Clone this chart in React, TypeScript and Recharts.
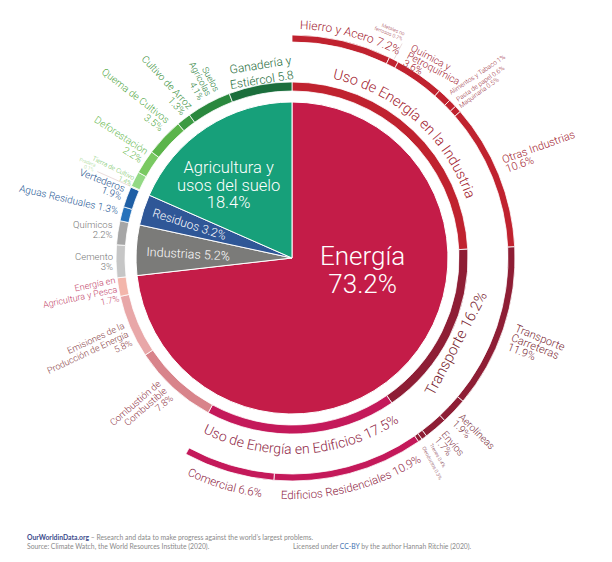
import { PieChart, Pie, Cell } from 'recharts';

// center disc
const mainNames = ['Energía', 'Industrias', 'Residuos', 'Agricultura y usos del suelo'];
const mainValues = [73.2, 5.2, 3.2, 18.4];
const mainColors = ['#c41c48', '#7b7b79', '#2f5797', '#17a07a'];

// middle ring (clockwise from 12 o'clock)
const midNames = [
  'Uso de Energía en la Industria', 'Transporte', 'Uso de Energía en Edificios',
  'Combustión de Combustible', 'Emisiones de la Producción de Energía', 'Energía en Agricultura y Pesca',
  'Cemento', 'Químicos', 'Aguas Residuales', 'Vertederos',
  'Pradera', 'Tierra de Cultivo', 'Deforestación', 'Quema de Cultivos', 'Cultivo de Arroz',
  'Suelos Agrícolas', 'Ganadería y Estiércol',
];
const midValues = [24.2, 16.2, 17.5, 7.8, 5.8, 1.7, 3, 2.2, 1.3, 1.9, 0.1, 1.4, 2.2, 3.5, 1.3, 4.1, 5.8];
const midColors = [
  '#c0222f', '#8e1e35', '#c4195a', '#d8848b', '#e8a7a8', '#f3b6ab',
  '#c6c6c6', '#a6a6a6', '#2672bb', '#1f5fa5',
  '#c8ecbb', '#93d985', '#79c962', '#5bb44a', '#3b9a42', '#2a883e', '#1b6e3c',
];

// outer ring, only for the first three energy groups
const outerNames = [
  'Hierro y Acero', 'Metales no ferrosos', 'Química y Petroquímica', 'Alimentos y Tabaco',
  'Pasta de papel', 'Maquinaria', 'Otras Industrias',
  'Transporte Carreteras', 'Aerolíneas', 'Envíos', 'Trenes', 'Oleoductos',
  'Edificios Residenciales', 'Comercial',
];
const outerValues = [7.2, 0.7, 3.6, 1, 0.6, 0.5, 10.6, 11.9, 1.9, 1.7, 0.4, 0.3, 10.9, 6.6];
const outerColors = [
  '#c0222f', '#c0222f', '#c0222f', '#c0222f', '#c0222f', '#c0222f', '#c0222f',
  '#8e1e35', '#8e1e35', '#8e1e35', '#8e1e35', '#8e1e35',
  '#c4195a', '#c4195a',
];

const CX = 292;
const CY = 258;
const FONT = 'Roboto, sans-serif';
const RAD = Math.PI / 180;

type ArcLbl = { k: 'arc'; r: number; d: number; span: number; ccw?: boolean; fs: number; c: string; t: string };
type TxtLbl = {
  k: 'txt'; r: number; d: number; rot: number; a: 'start' | 'middle' | 'end';
  fs: number; c: string; lines: string[]; lh?: number; lead?: [number, number];
};
type Lbl = ArcLbl | TxtLbl;

const mainLabels: Record<string, Lbl> = {
  'Energía': { k: 'txt', r: 71, d: -36, rot: 0, a: 'middle', fs: 26, c: '#fff', lines: ['Energía', '{v}%'], lh: 28 },
  'Industrias': { k: 'txt', r: 104, d: -3, rot: 3, a: 'middle', fs: 12.5, c: '#fff', lines: ['Industrias {v}%'] },
  'Residuos': { k: 'txt', r: 108, d: -2, rot: 18, a: 'middle', fs: 12, c: '#fff', lines: ['Residuos {v}%'] },
  'Agricultura y usos del suelo': {
    k: 'txt', r: 106, d: -3.6, rot: 0, a: 'middle', fs: 16.5, c: '#fff',
    lines: ['Agricultura y', 'usos del suelo', '{v}%'], lh: 17.5,
  },
};

const midLabels: Record<string, Lbl> = {
  'Uso de Energía en la Industria': { k: 'arc', r: 184, d: -1.5, span: 90, fs: 14.5, c: '#a3222f', t: 'Uso de Energía en la Industria' },
  'Transporte': { k: 'txt', r: 190, d: 1.2, rot: -62, a: 'middle', fs: 15, c: '#7a1f33', lines: ['Transporte {v}%'] },
  'Uso de Energía en Edificios': { k: 'arc', r: 196, d: 0, span: 90, ccw: true, fs: 14, c: '#8f1f45', t: 'Uso de Energía en Edificios {v}%' },
  'Combustión de Combustible': {
    k: 'txt', r: 182, d: 3.4, rot: -41, a: 'end', fs: 9.5, c: '#8f3545',
    lines: ['Combustión de', 'Combustible', '{v}%'], lh: 9.5,
  },
  'Emisiones de la Producción de Energía': {
    k: 'txt', r: 181, d: 0.3, rot: -25, a: 'end', fs: 9, c: '#8a3f48',
    lines: ['Emisiones de la', 'Producción de Energía', '{v}%'], lh: 9.5,
  },
  'Energía en Agricultura y Pesca': {
    k: 'txt', r: 178, d: 1.5, rot: -12, a: 'end', fs: 9, c: '#c4476c',
    lines: ['Energía en', 'Agricultura y Pesca', '{v}%'], lh: 9.5,
  },
  'Cemento': { k: 'txt', r: 179, d: 0.4, rot: 0, a: 'end', fs: 9.5, c: '#777', lines: ['Cemento', '{v}%'], lh: 10 },
  'Químicos': { k: 'txt', r: 182, d: 1.2, rot: 0, a: 'end', fs: 9.5, c: '#777', lines: ['Químicos', '{v}%'], lh: 10 },
  'Aguas Residuales': { k: 'txt', r: 180, d: -0.5, rot: 13, a: 'end', fs: 10, c: '#1f5a97', lines: ['Aguas Residuales {v}%'] },
  'Vertederos': { k: 'txt', r: 181, d: 1, rot: 21, a: 'end', fs: 10, c: '#1c4f8c', lines: ['Vertederos', '{v}%'], lh: 8.5 },
  'Pradera': { k: 'txt', r: 217, d: 0.9, rot: 20, a: 'end', fs: 5, c: '#9bd58a', lines: ['Pradera', '{v}%'], lh: 5, lead: [177, 213] },
  'Tierra de Cultivo': { k: 'txt', r: 177, d: -0.5, rot: 26, a: 'end', fs: 6.5, c: '#6cc257', lines: ['Tierra de Cultivo', '{v}%'], lh: 6.5 },
  'Deforestación': { k: 'txt', r: 179.5, d: 1.9, rot: 33, a: 'end', fs: 10, c: '#66b84e', lines: ['Deforestación', '{v}%'], lh: 10 },
  'Quema de Cultivos': { k: 'txt', r: 184, d: 3.4, rot: 38, a: 'end', fs: 10, c: '#52a845', lines: ['Quema de Cultivos', '{v}%'], lh: 10 },
  'Cultivo de Arroz': { k: 'txt', r: 181, d: 2.9, rot: 47, a: 'end', fs: 10, c: '#3a9140', lines: ['Cultivo de Arroz', '{v}%'], lh: 9 },
  'Suelos Agrícolas': { k: 'txt', r: 183, d: 3.1, rot: 62, a: 'end', fs: 9, c: '#2d8240', lines: ['Suelos', 'Agrícolas', '{v}%'], lh: 9 },
  'Ganadería y Estiércol': { k: 'txt', r: 194, d: 10.4, rot: -9, a: 'end', fs: 12, c: '#1d6b3a', lines: ['Ganadería y', 'Estiércol {v}'], lh: 15 },
};

const outerLabels: Record<string, Lbl> = {
  'Hierro y Acero': { k: 'arc', r: 229, d: 1.8, span: 60, fs: 12, c: '#a3222f', t: 'Hierro y Acero {v}%' },
  'Metales no ferrosos': {
    k: 'txt', r: 249, d: -0.5, rot: 22, a: 'end', fs: 5, c: '#9a3040',
    lines: ['Metales no', 'ferrosos {v}%'], lh: 5.5, lead: [224, 241],
  },
  'Química y Petroquímica': {
    k: 'txt', r: 239, d: -5.3, rot: 28, a: 'start', fs: 10, c: '#a3222f',
    lines: ['Química y', 'Petroquímica', '{v}%'], lh: 8.5,
  },
  'Alimentos y Tabaco': { k: 'txt', r: 228, d: 1.1, rot: -34, a: 'start', fs: 6.5, c: '#9a3040', lines: ['Alimentos y Tabaco {v}%'] },
  'Pasta de papel': { k: 'txt', r: 228, d: 0.7, rot: -35, a: 'start', fs: 6.5, c: '#9a3040', lines: ['Pasta de papel {v}%'] },
  'Maquinaria': { k: 'txt', r: 226, d: 0.4, rot: -36, a: 'start', fs: 6.5, c: '#9a3040', lines: ['Maquinaria {v}%'] },
  'Otras Industrias': { k: 'txt', r: 232, d: -2.1, rot: -20, a: 'start', fs: 11, c: '#a3222f', lines: ['Otras Industrias', '{v}%'], lh: 10 },
  'Transporte Carreteras': {
    k: 'txt', r: 234, d: -0.3, rot: 22, a: 'start', fs: 11, c: '#7a1f33',
    lines: ['Transporte', 'Carreteras', '{v}%'], lh: 10,
  },
  'Aerolíneas': { k: 'txt', r: 230.5, d: 0.5, rot: 45, a: 'start', fs: 10, c: '#7a3040', lines: ['Aerolíneas', '{v}%'], lh: 9 },
  'Envíos': { k: 'txt', r: 231, d: 0, rot: 50, a: 'start', fs: 10, c: '#7a3040', lines: ['Envíos', '{v}%'], lh: 9 },
  'Trenes': { k: 'txt', r: 232, d: 0, rot: 60, a: 'start', fs: 5, c: '#7a3040', lines: ['Trenes {v}%'] },
  'Oleoductos': { k: 'txt', r: 230, d: 0.7, rot: 62, a: 'start', fs: 5, c: '#7a3040', lines: ['Oleoductos {v}%'] },
  'Edificios Residenciales': { k: 'arc', r: 241, d: 0, span: 60, ccw: true, fs: 11.5, c: '#8f1f45', t: 'Edificios Residenciales {v}%' },
  'Comercial': { k: 'arc', r: 241, d: 0, span: 40, ccw: true, fs: 11.5, c: '#8f1f45', t: 'Comercial {v}%' },
};

const total = mainValues.reduce((a, b) => a + b, 0);
const outerSpan = (360 * outerValues.reduce((a, b) => a + b, 0)) / total;

// clock angle: degrees clockwise from 12 o'clock
function pt(cx: number, cy: number, r: number, clock: number): [number, number] {
  return [cx + r * Math.sin(clock * RAD), cy - r * Math.cos(clock * RAD)];
}

function arcD(cx: number, cy: number, r: number, a0: number, a1: number) {
  const [x0, y0] = pt(cx, cy, r, a0);
  const [x1, y1] = pt(cx, cy, r, a1);
  const sweep = a1 > a0 ? 1 : 0;
  const large = Math.abs(a1 - a0) > 180 ? 1 : 0;
  return `M${x0},${y0} A${r},${r} 0 ${large} ${sweep} ${x1},${y1}`;
}

const fmt = (s: string, v: number) => s.replace('{v}', String(v));

function makeLabel(names: string[], values: number[], specs: Record<string, Lbl>, ring: string) {
  return (props: any) => {
    const { cx, cy, midAngle, index } = props;
    const name = names[index];
    const spec = specs[name];
    if (!spec) return null;
    const v = values[index];
    const clock = 90 - midAngle + spec.d;
    if (spec.k === 'arc') {
      const id = `${ring}-arc-${index}`;
      const a0 = spec.ccw ? clock + spec.span / 2 : clock - spec.span / 2;
      const a1 = spec.ccw ? clock - spec.span / 2 : clock + spec.span / 2;
      return (
        <g key={id}>
          <defs>
            <path id={id} d={arcD(cx, cy, spec.r, a0, a1)} />
          </defs>
          <text fontFamily={FONT} fontWeight={300} fontSize={spec.fs} fill={spec.c}>
            <textPath href={`#${id}`} startOffset="50%" textAnchor="middle">
              {fmt(spec.t, v)}
            </textPath>
          </text>
        </g>
      );
    }
    const [x, y] = pt(cx, cy, spec.r, clock);
    const lh = spec.lh ?? spec.fs;
    let lead = null;
    if (spec.lead) {
      const [lx0, ly0] = pt(cx, cy, spec.lead[0], 90 - midAngle);
      const [lx1, ly1] = pt(cx, cy, spec.lead[1], 90 - midAngle);
      lead = <line x1={lx0} y1={ly0} x2={lx1} y2={ly1} stroke="#dcc4c4" strokeWidth={0.6} />;
    }
    return (
      <g key={`${ring}-t-${index}`}>
        {lead}
        <text
          x={x}
          y={y}
          transform={`rotate(${spec.rot}, ${x}, ${y})`}
          textAnchor={spec.a}
          fontFamily={FONT}
          fontWeight={300}
          fontSize={spec.fs}
          fill={spec.c}
        >
          {spec.lines.map((ln, i) => (
            <tspan key={i} x={x} dy={i === 0 ? 0 : lh}>
              {fmt(ln, v)}
            </tspan>
          ))}
        </text>
      </g>
    );
  };
}

const mainData = mainNames.map((name, i) => ({ name, value: mainValues[i] }));
const midData = midNames.map((name, i) => ({ name, value: midValues[i] }));
const outerData = outerNames.map((name, i) => ({ name, value: outerValues[i] }));

export default function App() {
  return (
    <div style={{ position: 'absolute', left: 0, top: 0, width: 612, height: 562, background: '#fff' }}>
      <PieChart width={612} height={562} margin={{ top: 0, right: 0, bottom: 0, left: 0 }}>
        <Pie
          data={mainData}
          dataKey="value"
          nameKey="name"
          cx={CX}
          cy={CY}
          innerRadius={0}
          outerRadius={156}
          startAngle={90}
          endAngle={-270}
          stroke="#fff"
          strokeWidth={1}
          isAnimationActive={false}
          labelLine={false}
          label={makeLabel(mainNames, mainValues, mainLabels, 'main')}
        >
          {mainData.map((d, i) => (
            <Cell key={d.name} fill={mainColors[i]} />
          ))}
        </Pie>
        <Pie
          data={midData}
          dataKey="value"
          nameKey="name"
          cx={CX}
          cy={CY}
          innerRadius={167}
          outerRadius={176}
          startAngle={90}
          endAngle={-270}
          stroke="#fff"
          strokeWidth={0.8}
          isAnimationActive={false}
          labelLine={false}
          label={makeLabel(midNames, midValues, midLabels, 'mid')}
        >
          {midData.map((d, i) => (
            <Cell key={d.name} fill={midColors[i]} />
          ))}
        </Pie>
        <Pie
          data={outerData}
          dataKey="value"
          nameKey="name"
          cx={CX}
          cy={CY}
          innerRadius={216}
          outerRadius={223}
          startAngle={90}
          endAngle={90 - outerSpan}
          stroke="#fff"
          strokeWidth={0.8}
          isAnimationActive={false}
          labelLine={false}
          label={makeLabel(outerNames, outerValues, outerLabels, 'outer')}
        >
          {outerData.map((d, i) => (
            <Cell key={d.name} fill={outerColors[i]} />
          ))}
        </Pie>
      </PieChart>
      <div
        style={{
          position: 'absolute',
          left: 27,
          top: 533,
          fontFamily: 'Lato, sans-serif',
          fontSize: 6.8,
          lineHeight: '9px',
          color: '#8a8a8a',
          whiteSpace: 'nowrap',
        }}
      >
        <div>
          <span style={{ color: '#3c4b8c', fontWeight: 700 }}>OurWorldinData.org</span> – Research and data to make
          progress against the world’s largest problems.
        </div>
        <div style={{ position: 'relative' }}>
          Source: Climate Watch, the World Resources Institute (2020).
          <span style={{ position: 'absolute', left: 266 }}>
            Licensed under <span style={{ color: '#3d6fb0' }}>CC-BY</span> by the author Hannah Ritchie (2020).
          </span>
        </div>
      </div>
    </div>
  );
}
